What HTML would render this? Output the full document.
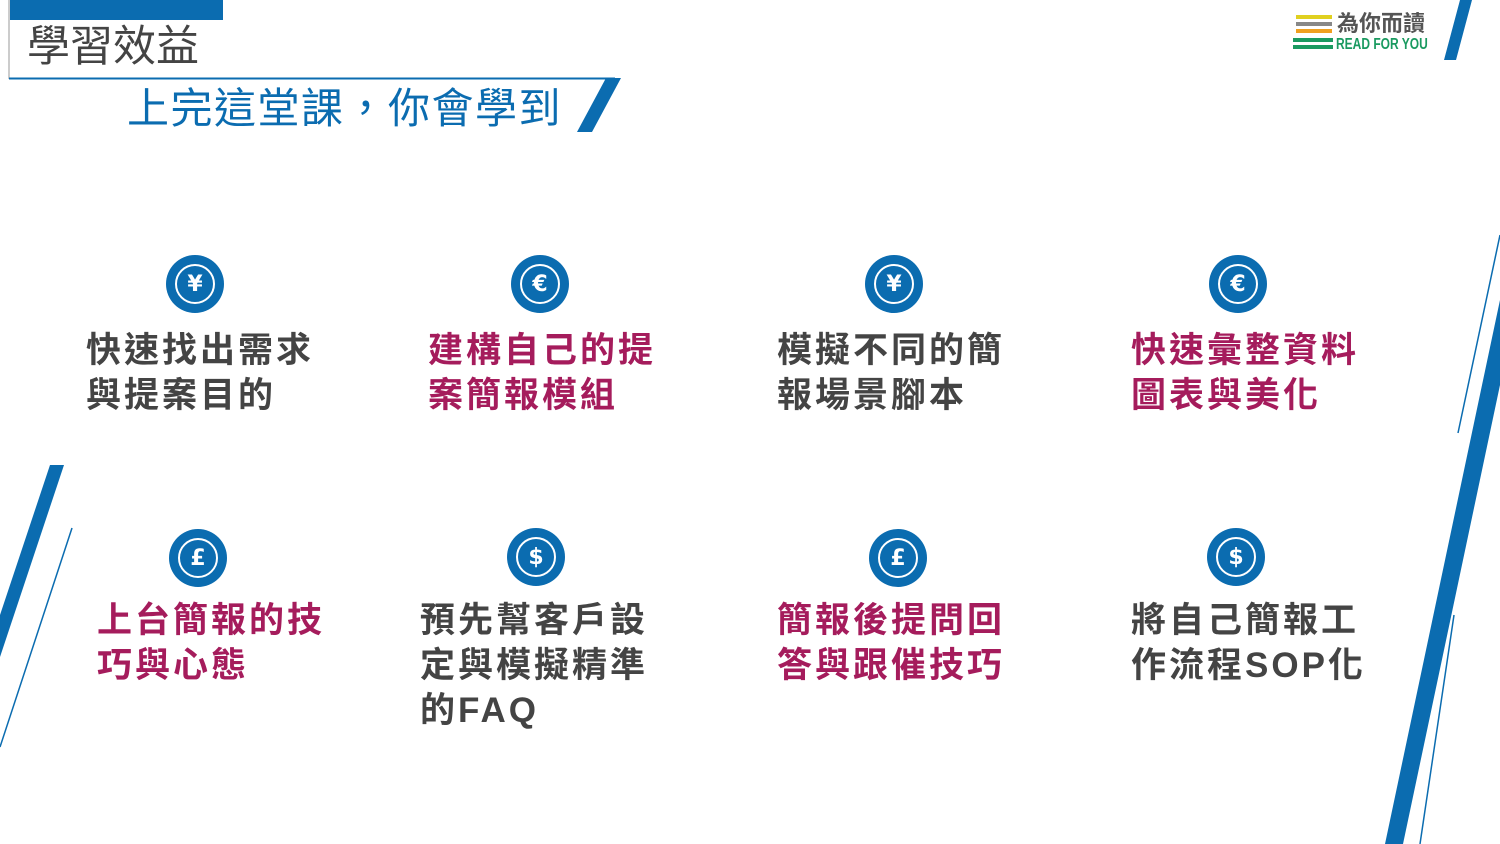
<!DOCTYPE html>
<html><head><meta charset="utf-8"><style>
body{margin:0;width:1500px;height:844px;overflow:hidden;background:#fff;position:relative;font-family:"Liberation Sans","Noto Sans CJK TC",sans-serif}
.abs{position:absolute}
.t{position:absolute;font-size:35px;font-weight:bold;line-height:45px;letter-spacing:3px;white-space:nowrap}
.g{color:#444;letter-spacing:3px}
.r{color:#a51c5c}
.ic{position:absolute;width:58px;height:58px;border-radius:50%;background:#0b6cb0}
.ic div{position:absolute;left:9px;top:9px;width:36px;height:36px;border:2px solid #fff;border-radius:50%;color:#fff;font-weight:bold;font-size:22px;line-height:38px;text-align:center;font-family:"DejaVu Sans",sans-serif}
</style></head><body>
<svg class="abs" style="left:0;top:0" width="1500" height="844">
<rect x="10" y="0" width="213" height="20" fill="#0b6cb0"/>
<line x1="9" y1="0" x2="9" y2="79" stroke="#bbb" stroke-width="1.5"/>
<line x1="9" y1="78.5" x2="615" y2="78.5" stroke="#0b6cb0" stroke-width="2"/>
<polygon points="606,78 621,78 592,132 577,132" fill="#0b6cb0"/>
<polygon points="1460,0 1472,0 1456,60 1444,60" fill="#0b6cb0"/>
<polygon points="1500,300 1500,385 1403,844 1385,844" fill="#0b6cb0"/>
<line x1="1500" y1="235" x2="1458" y2="433" stroke="#0b6cb0" stroke-width="1.5"/>
<line x1="1454" y1="615" x2="1420" y2="844" stroke="#0b6cb0" stroke-width="1.5"/>
<polygon points="50,465 64,465 0,657 0,615" fill="#0b6cb0"/>
<line x1="72" y1="528" x2="0" y2="747" stroke="#0b6cb0" stroke-width="1.5"/>
<rect x="1296" y="15" width="36" height="4" fill="#e0d020"/>
<rect x="1296" y="22" width="36" height="4" fill="#888"/>
<rect x="1296" y="29" width="36" height="4" fill="#f0a020"/>
<rect x="1293" y="38" width="40" height="4" fill="#1a9a60"/>
<rect x="1293" y="45" width="40" height="4" fill="#1a9a60"/>
</svg>
<div class="abs" style="left:27px;top:22px;font-size:43px;color:#444;line-height:50px">學習效益</div>
<div class="abs" style="left:127px;top:84px;font-size:42px;color:#0b6cb0;line-height:50px;letter-spacing:1.5px">上完這堂課，你會學到</div>
<div class="abs" style="left:1337px;top:11px;font-size:22px;color:#555;line-height:26px;font-weight:bold">為你而讀</div>
<div class="abs" style="left:1336px;top:36px;font-size:16px;color:#1a9a60;line-height:18px;font-weight:bold;transform:scaleX(0.75);transform-origin:left">READ FOR YOU</div>

<div class="ic" style="left:166px;top:255px"><div>¥</div></div>
<div class="ic" style="left:511px;top:255px"><div>€</div></div>
<div class="ic" style="left:865px;top:255px"><div>¥</div></div>
<div class="ic" style="left:1209px;top:255px"><div>€</div></div>
<div class="ic" style="left:169px;top:529px"><div>£</div></div>
<div class="ic" style="left:507px;top:528px"><div>$</div></div>
<div class="ic" style="left:869px;top:529px"><div>£</div></div>
<div class="ic" style="left:1207px;top:528px"><div>$</div></div>

<div class="t g" style="left:86px;top:328px">快速找出需求<br>與提案目的</div>
<div class="t r" style="left:428px;top:328px">建構自己的提<br>案簡報模組</div>
<div class="t g" style="left:777px;top:328px">模擬不同的簡<br>報場景腳本</div>
<div class="t r" style="left:1131px;top:328px">快速彙整資料<br>圖表與美化</div>
<div class="t r" style="left:97px;top:598px">上台簡報的技<br>巧與心態</div>
<div class="t g" style="left:420px;top:598px">預先幫客戶設<br>定與模擬精準<br>的FAQ</div>
<div class="t r" style="left:777px;top:598px">簡報後提問回<br>答與跟催技巧</div>
<div class="t g" style="left:1131px;top:598px">將自己簡報工<br>作流程SOP化</div>
</body></html>
